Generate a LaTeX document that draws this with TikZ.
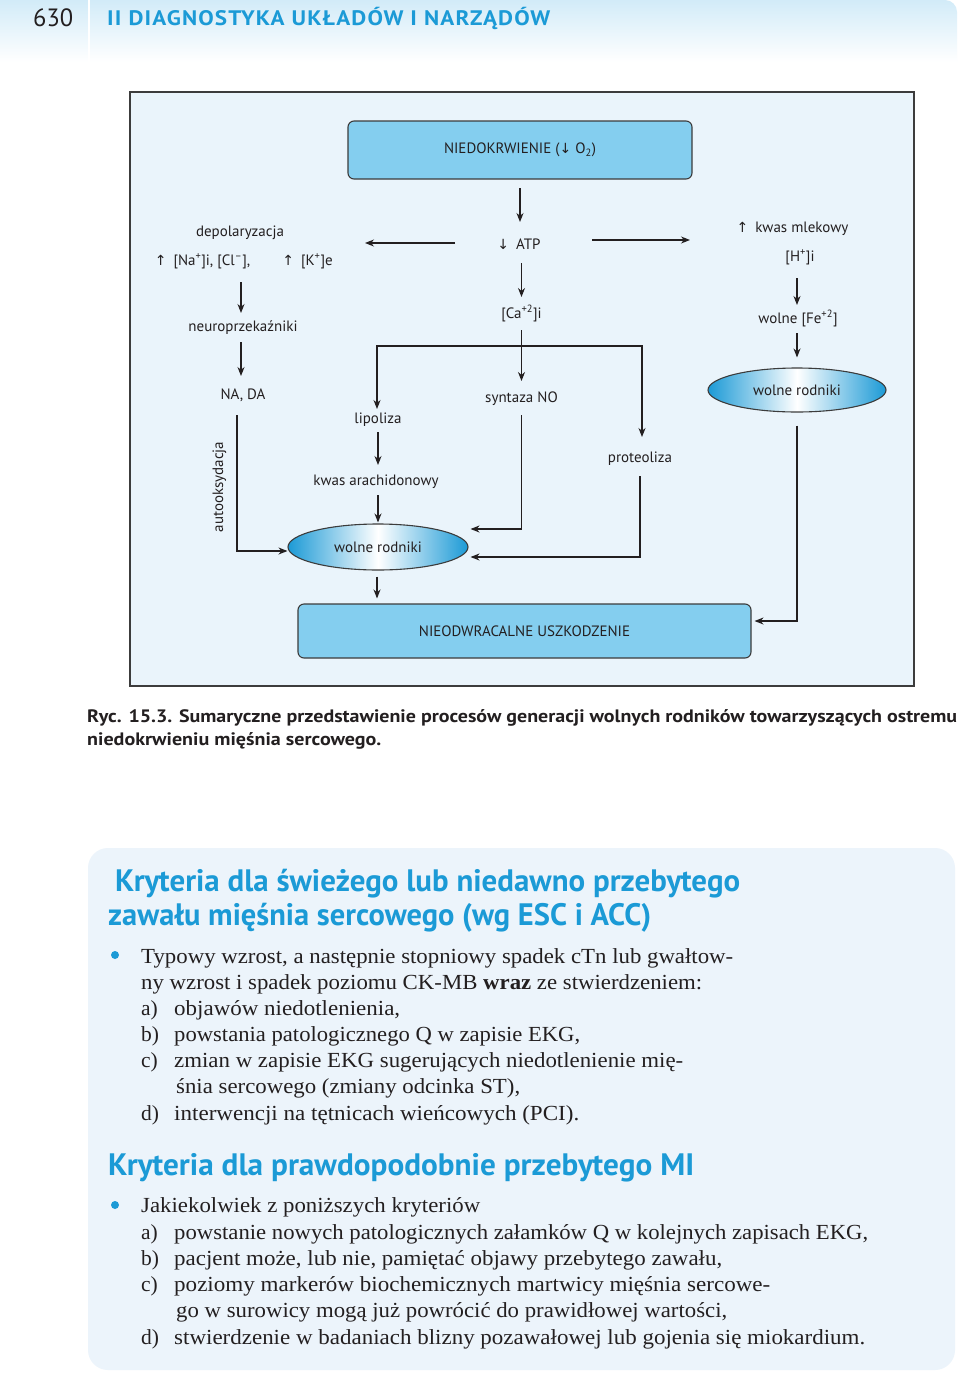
\documentclass[tikz,border=0pt]{standalone}
\usepackage{graphicx}
\usepackage{fontspec}
\setmainfont{Liberation Serif}
\newfontfamily\dsf{PT Sans}
\newfontfamily\hdrf[LetterSpace=5]{PT Sans}
\newfontfamily\sym{DejaVu Sans}
\usetikzlibrary{arrows.meta,shapes.geometric,calc}
\definecolor{hdrblue}{HTML}{1B9AD6}
\definecolor{boxfill}{HTML}{84CEEF}
\definecolor{diabg}{HTML}{EAF4FB}
\definecolor{framec}{HTML}{3C3C3C}
\definecolor{ink}{HTML}{231F20}
\definecolor{ellblue}{HTML}{1C9AD6}
\definecolor{bandtop}{HTML}{D2EBF8}
\definecolor{panel}{HTML}{ECF4FB}
\newcommand\fitw[2]{\resizebox{#1}{\height}{#2}}
\newcommand\dn{{\sym\fontsize{14}{14}\selectfont ↓}}
\newcommand\upa{{\sym\fontsize{14}{14}\selectfont ↑}}
\tikzset{
  lbl/.style={font=\dsf\fontsize{15}{17}\selectfont, text=ink, inner sep=0pt, text height=12pt, text depth=2pt},
  rbox/.style={draw=framec, line width=1.1pt, fill=boxfill, rounded corners=6pt, font=\dsf\fontsize{15}{17}\selectfont, text=ink},
  wr/.style={ellipse, draw=framec, line width=1.1pt, left color=ellblue, right color=ellblue, middle color=white, inner sep=0pt, font=\dsf\fontsize{15}{17}\selectfont, text=ink},
  arr/.style={draw=ink, line width=1.1pt, -{Stealth[length=9pt,width=7pt]}},
  arrb/.style={draw=ink, line width=1.1pt, {Stealth[length=9pt,width=7pt]}-{Stealth[length=9pt,width=7pt]}},
  line/.style={anchor=base west, inner sep=0pt, text=ink, font=\fontsize{21.5}{26}\selectfont},
  head/.style={anchor=base west, inner sep=0pt, text=hdrblue, font=\dsf\bfseries\fontsize{31}{34}\selectfont},
  capt/.style={anchor=base west, inner sep=0pt, text=ink, font=\dsf\bfseries\fontsize{18}{20}\selectfont}
}
\begin{document}
\begin{tikzpicture}[x=1pt,y=-1pt]
\useasboundingbox (0,0) rectangle (960,1373);
\fill[white] (0,0) rectangle (960,1373);
% header band
\shade[top color=bandtop, bottom color=white] (0,62) -- (0,0) -- (945,0) arc[start angle=-90, end angle=0, radius=12] -- (957,62) -- cycle;
\draw[white, line width=2pt] (88.5,0) -- (88.5,62);
\node[anchor=base west, inner sep=0pt, text=ink, font=\dsf\fontsize{25}{25}\selectfont] (pg) at (33,27) {\fitw{40pt}{630}};
\node[anchor=base west, inner sep=0pt, text=hdrblue, font=\hdrf\bfseries\fontsize{21}{21}\selectfont] (chap) at (107,26) {\fitw{443pt}{II DIAGNOSTYKA UKŁADÓW I NARZĄDÓW}};
% diagram frame
\draw[framec, line width=1.3pt, fill=diabg] (130,92) rectangle (914,686);
% nodes
\node[rbox, minimum width=344pt, minimum height=58pt] (top) at (520,150) {NIEDOKRWIENIE (\dn\ O\textsubscript{2})};
\node[lbl] (depol) at (240,231) {depolaryzacja};
\node[lbl] (na) at (202.5,260) {\upa\hspace{7pt}[Na\textsuperscript{+}]i, [Cl\textsuperscript{–}],};
\node[lbl] (kk) at (307.5,260) {\upa\hspace{7pt}[K\textsuperscript{+}]e};
\node[lbl] (atp) at (519,244) {\dn\hspace{7pt}ATP};
\node[lbl] (lac) at (792.5,227) {\upa\hspace{7pt}kwas mlekowy};
\node[lbl] (hh) at (800,256) {[H\textsuperscript{+}]i};
\node[lbl] (fe) at (798,318) {wolne [Fe\textsuperscript{+2}]};
\node[wr, minimum width=178pt, minimum height=44pt] (wr1) at (797,390) {wolne rodniki};
\node[lbl] (neuro) at (243,326) {neuroprzekaźniki};
\node[lbl] (nada) at (243,394) {NA, DA};
\node[lbl] (ca) at (521.5,313) {[Ca\textsuperscript{+2}]i};
\node[lbl] (lipo) at (378,418) {lipoliza};
\node[lbl] (synt) at (521.5,397) {syntaza NO};
\node[lbl] (prot) at (640,457) {proteoliza};
\node[lbl] (arach) at (376,480) {kwas arachidonowy};
\node[wr, minimum width=180pt, minimum height=46pt] (wr2) at (378,547) {wolne rodniki};
\node[rbox, minimum width=453pt, minimum height=54pt] (bot) at (524.5,631) {NIEODWRACALNE USZKODZENIE};
\node[lbl, rotate=90] (auto) at (218,487) {autooksydacja};
% connectors
\draw[arr] ($(top)+(0,38)$) -- ($(top)+(0,72)$);
\draw[arr] ($(atp)+(-64,-1)$) -- ($(atp)+(-154,-1)$);
\draw[arr] ($(atp)+(73,-4)$) -- ($(atp)+(171,-4)$);
\draw[arr] ($(neuro)+(-2,-44)$) -- ($(neuro)+(-2,-13)$);
\draw[arr] ($(neuro)+(-2,16)$) -- ($(nada)+(-2,-18)$);
\draw[arr] ($(nada)+(-6,21)$) |- ($(wr2.west)+(0,4)$);
\draw[arr] ($(atp)+(2.5,19)$) -- ($(ca)+(0,-16)$);
\draw[arr] ($(ca)+(0,17)$) -- ($(synt)+(0,-16)$);
\draw[arrb] ($(lipo)+(-1,-9)$) -- ($(lipo)+(-1,-72)$) -- ($(prot)+(2,-111)$) -- ($(prot)+(2,-20)$);
\draw[arr] ($(lipo)+(0,14)$) -- ($(arach)+(2,-15)$);
\draw[arr] ($(arach)+(2,15)$) -- ($(wr2.north)+(0,-1)$);
\draw[arr] ($(synt)+(0,18)$) |- ($(wr2.east)+(2,-18)$);
\draw[arr] ($(prot)+(0,19)$) |- ($(wr2.east)+(2,10)$);
\draw[arr] ($(wr2.south)+(-1,6)$) -- ($(bot.north -| wr2.south)+(-1,-5)$);
\draw[arr] ($(hh)+(-3,22)$) -- ($(fe)+(-1,-13)$);
\draw[arr] ($(fe)+(-1,15)$) -- ($(wr1.north)+(0,-10)$);
\draw[arr] ($(wr1.south)+(0,13)$) |- ($(bot.east)+(3,-10)$);
% caption
\node[capt] (cap1) at (87,722) {\fitw{870pt}{Ryc. 15.3. Sumaryczne przedstawienie procesów generacji wolnych rodników towarzyszących ostremu}};
\node[capt] (cap2) at (87,745) {\fitw{294pt}{niedokrwieniu mięśnia sercowego.}};
% panel
\fill[panel, rounded corners=20pt] (88,848) rectangle (955,1370);
\node[head] (h1) at (115,891) {\fitw{625pt}{Kryteria dla świeżego lub niedawno przebytego}};
\node[head] (h2) at (108,925) {\fitw{543pt}{zawału mięśnia sercowego (wg ESC i ACC)}};
\fill[hdrblue] (115,955) circle[radius=4];
\node[line] (b1) at (141,963) {\fitw{592pt}{Typowy wzrost, a następnie stopniowy spadek cTn lub gwałtow-}};
\node[line] (b2) at (141,989) {\fitw{561pt}{ny wzrost i spadek poziomu CK-MB \textbf{wraz} ze stwierdzeniem:}};
\node[line] (la) at (141,1015) {a)};
\node[line] (ta) at (174,1015) {\fitw{226pt}{objawów niedotlenienia,}};
\node[line] (lb) at (141,1041) {b)};
\node[line] (tb) at (174,1041) {\fitw{406pt}{powstania patologicznego Q w zapisie EKG,}};
\node[line] (lc) at (141,1067) {c)};
\node[line] (tc) at (174,1067) {\fitw{509pt}{zmian w zapisie EKG sugerujących niedotlenienie mię-}};
\node[line] (tc2) at (176,1093) {\fitw{344pt}{śnia sercowego (zmiany odcinka ST),}};
\node[line] (ld) at (141,1120) {d)};
\node[line] (td) at (174,1120) {\fitw{405pt}{interwencji na tętnicach wieńcowych (PCI).}};
\node[head] (h3) at (108,1175) {\fitw{586pt}{Kryteria dla prawdopodobnie przebytego MI}};
\fill[hdrblue] (115,1205) circle[radius=4];
\node[line] (c1) at (141,1212) {\fitw{339pt}{Jakiekolwiek z poniższych kryteriów}};
\node[line] (ma) at (141,1239) {a)};
\node[line] (sa) at (174,1239) {\fitw{694pt}{powstanie nowych patologicznych załamków Q w kolejnych zapisach EKG,}};
\node[line] (mb) at (141,1265) {b)};
\node[line] (sb) at (174,1265) {\fitw{548pt}{pacjent może, lub nie, pamiętać objawy przebytego zawału,}};
\node[line] (mc) at (141,1291) {c)};
\node[line] (sc) at (174,1291) {\fitw{596pt}{poziomy markerów biochemicznych martwicy mięśnia sercowe-}};
\node[line] (sc2) at (176,1317) {\fitw{551pt}{go w surowicy mogą już powrócić do prawidłowej wartości,}};
\node[line] (md) at (141,1344) {d)};
\node[line] (sd) at (174,1344) {\fitw{691pt}{stwierdzenie w badaniach blizny pozawałowej lub gojenia się miokardium.}};
\end{tikzpicture}
\end{document}
